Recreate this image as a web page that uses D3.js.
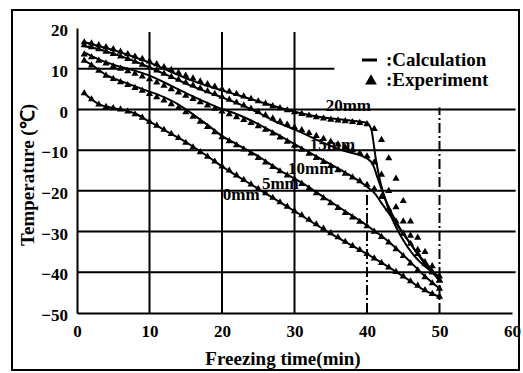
<!DOCTYPE html>
<html>
<head>
<meta charset="utf-8">
<script src="https://cdn.jsdelivr.net/npm/d3@7"></script>
<style>
  body { margin: 0; background: #fff; }
  svg text { font-family: "Liberation Serif", "Times New Roman", serif; font-weight: bold; fill: #000; }
</style>
</head>
<body>
<div id="chart"></div>
<script>
// axis ticks
const xTicks = [0, 10, 20, 30, 40, 50, 60];
const yTicks = [20, 10, 0, -10, -20, -30, -40, -50];

// calculation curves (time in min, temperature in °C)
const calc20Time = [1, 3, 5, 8, 10, 13, 16, 19, 22, 25, 28, 31, 34, 37, 40, 40.6, 41.2, 41.8, 42.5, 43.4, 44.8, 46.3, 48.3, 50];
const calc20Temp = [16.5, 15.6, 14.6, 12.8, 11.5, 9.2, 7, 5.2, 3.6, 2, 0.4, -1, -2, -2.6, -3.3, -5, -12, -17.5, -22, -26.5, -31.5, -35.5, -39, -41];
const calc15Time = [1, 3, 5, 8, 10, 13, 16, 19, 22, 25, 28, 30, 33, 36.5, 40, 40.8, 41.5, 42.3, 43, 44, 45, 46, 47, 48, 49, 50];
const calc15Temp = [15.5, 14.8, 13.7, 11.8, 10.3, 8, 5.6, 3.6, 1.6, -0.8, -3.5, -4.9, -7.4, -10, -12, -13.5, -17, -21, -24, -27.5, -30.5, -33, -35.5, -38, -40, -42];
const calc10Time = [1, 3, 5, 8, 10, 13, 16, 19, 22.5, 25, 28, 31, 34, 37, 40, 41, 42, 43, 44, 45, 46, 47, 48, 49, 50];
const calc10Temp = [14, 12.3, 11, 9.5, 8.3, 5.8, 3.2, 0.8, -1.5, -3.6, -6.5, -9.5, -12.5, -15.5, -19, -20.5, -23, -25.5, -28, -30.5, -33, -35.5, -37.5, -39.5, -42];
const calc5Time = [1, 2, 4, 6, 9, 12, 14, 16, 18, 20, 22, 25, 28, 31, 34, 37, 40, 43, 46, 48, 50];
const calc5Temp = [12, 11, 8.5, 7, 5, 3, 1.2, -1.2, -3.8, -6.5, -8.5, -11.5, -15, -18, -21.5, -25, -28.5, -32.5, -37.5, -41, -44];
const calc0Time = [1, 2, 3, 4, 6, 8, 10, 12, 15, 18, 20, 25, 30, 35, 40, 45, 48, 50];
const calc0Temp = [4, 2.5, 1.3, 0.7, 0, -1, -3, -5, -8, -11.5, -14, -19.5, -25, -30.5, -35.5, -41, -44.5, -46];

// experiment readings, one per minute
const expTime = [1, 2, 3, 4, 5, 6, 7, 8, 9, 10, 11, 12, 13, 14, 15, 16, 17, 18, 19, 20, 21, 22, 23, 24, 25,
  26, 27, 28, 29, 30, 31, 32, 33, 34, 35, 36, 37, 38, 39, 40, 41, 42, 43, 44, 45, 46, 47, 48, 49, 50];
const exp20 = [16.5, 16.2, 15.8, 15.3, 14.8, 14.2, 13.6, 13, 12.4, 11.8, 11.1, 10.4, 9.7, 9, 8.3, 7.6, 6.9, 6.2, 5.6, 5, 4.4, 3.8, 3.2, 2.6, 2,
  1.4, 0.8, 0.3, -0.2, -0.7, -1.1, -1.5, -1.9, -2.2, -2.5, -2.7, -2.9, -3.1, -3.3, -3.6, -4.8, -7.5, -12, -17, -22.5, -27.5, -31.5, -35, -38.5, -41];
const exp15 = [15.8, 15.3, 14.8, 14.2, 13.6, 13, 12.4, 11.7, 11, 10.3, 9.6, 8.8, 8, 7.3, 6.6, 5.9, 5.2, 4.5, 3.8, 3.1, 2.4, 1.7, 1, 0.2, -0.6,
  -1.4, -2.2, -3, -3.7, -4.4, -5.1, -5.8, -6.5, -7.2, -7.9, -8.6, -9.3, -10, -10.7, -11.5, -13, -16, -20, -24, -27.5, -31, -34.5, -37.5, -40, -42];
const exp10 = [13.5, 12.8, 12, 11.3, 10.6, 10, 9.4, 8.8, 8.1, 7.4, 6.6, 5.8, 5, 4.2, 3.4, 2.6, 1.8, 1, 0.2, -0.5, -1.2, -1.9, -2.6, -3.3, -4.1,
  -5, -5.9, -6.9, -7.9, -8.9, -9.9, -10.9, -11.9, -12.9, -13.9, -14.9, -15.8, -16.7, -17.6, -18.5, -19.5, -21.5, -24.5, -27.5, -30.5, -33, -35.5, -38, -40, -42];
const exp5 = [12, 10.8, 9.5, 8.3, 7.5, 6.7, 6, 5.3, 4.6, 3.8, 3, 2.2, 1.3, 0.4, -0.7, -1.8, -3, -4.3, -5.6, -6.8, -7.8, -8.8, -9.8, -10.8, -11.9,
  -13, -14.1, -15.2, -16.2, -17.2, -18.3, -19.4, -20.6, -21.8, -23, -24.2, -25.4, -26.5, -27.6, -28.7, -30, -31.3, -32.7, -34.3, -36, -37.8, -39.5, -41.2, -42.7, -44];
const exp0 = [4, 2.5, 1.2, 0.6, 0.3, 0, -0.5, -1.2, -2, -3, -4, -5, -6, -7, -8.2, -9.3, -10.5, -11.6, -12.8, -14, -15, -16.2, -17.3, -18.4, -19.5,
  -20.6, -21.7, -22.8, -23.9, -25, -26, -27.1, -28.2, -29.3, -30.4, -31.4, -32.5, -33.5, -34.5, -35.5, -36.6, -37.7, -38.8, -39.9, -41, -42.2, -43.3, -44.4, -45.3, -46];

// curve labels: text, anchor time, anchor temperature
const curveLabels = ["20mm", "15mm", "10mm", "5mm", "0mm"];
const labelTime = [34.3, 32.1, 29.1, 25.5, 20.1];
const labelTemp = [-0.5, -10, -15.8, -19.5, -22.2];

const W = 523, H = 373;
const svg = d3.select("#chart").append("svg")
  .attr("width", W)
  .attr("height", H);

svg.append("rect")
  .attr("x", 12).attr("y", 10)
  .attr("width", 507).attr("height", 360)
  .attr("fill", "#fff")
  .attr("stroke", "#000")
  .attr("stroke-width", 2);

const x = d3.scaleLinear().domain([0, 60]).range([77, 512]);
const y = d3.scaleLinear().domain([-50, 20]).range([313, 28]);

// grid
const grid = svg.append("g").attr("stroke", "#000").attr("stroke-width", 2);
[10, 0, -10, -20, -30, -40].forEach(v => {
  grid.append("line")
    .attr("x1", x(0)).attr("x2", v === 10 ? x(35.5) : x(60.5))
    .attr("y1", y(v)).attr("y2", y(v));
});
[10, 20, 30].forEach(v => {
  grid.append("line")
    .attr("x1", x(v)).attr("x2", x(v))
    .attr("y1", y(-50)).attr("y2", y(19));
});
grid.append("line")
  .attr("x1", x(40)).attr("x2", x(40))
  .attr("y1", y(-50)).attr("y2", y(-20))
  .attr("stroke-dasharray", "10,3,2,3");
grid.append("line")
  .attr("x1", x(50)).attr("x2", x(50))
  .attr("y1", y(-50)).attr("y2", y(0.5))
  .attr("stroke-dasharray", "10,3,2,3");

// axes
const xAxis = svg.append("g")
  .attr("transform", `translate(0,${y(-50)})`)
  .call(d3.axisBottom(x).tickValues(xTicks).tickSize(0).tickPadding(12));
const yAxis = svg.append("g")
  .attr("transform", `translate(${x(0)},0)`)
  .call(d3.axisLeft(y).tickValues(yTicks).tickSize(0).tickPadding(9));
[xAxis, yAxis].forEach(a => {
  a.select(".domain").attr("stroke", "#000").attr("stroke-width", 2);
  a.selectAll("text")
    .style("font-family", "'Liberation Serif', serif")
    .style("font-weight", "bold")
    .style("font-size", "17px");
});
yAxis.selectAll("text").attr("dy", "0.45em");

// axis titles
svg.append("text")
  .attr("x", 283)
  .attr("y", 365)
  .attr("text-anchor", "middle")
  .style("font-size", "19px")
  .text("Freezing time(min)");

svg.append("text")
  .attr("transform", "translate(34,175) rotate(-90)")
  .attr("text-anchor", "middle")
  .style("font-size", "19px")
  .text("Temperature (℃)");

// calculation lines
const line = d3.line()
  .x(d => x(d[0]))
  .y(d => y(d[1]))
  .curve(d3.curveMonotoneX);

const calcSeries = [
  [calc20Time, calc20Temp],
  [calc15Time, calc15Temp],
  [calc10Time, calc10Temp],
  [calc5Time, calc5Temp],
  [calc0Time, calc0Temp]
];

svg.append("g").selectAll("path")
  .data(calcSeries.map(([ts, vs]) => ts.map((t, i) => [t, vs[i]])))
  .join("path")
  .attr("d", line)
  .attr("fill", "none")
  .attr("stroke", "#000")
  .attr("stroke-width", 2);

// experiment triangles
const expSeries = [exp20, exp15, exp10, exp5, exp0];
const tri = d3.symbol().type(d3.symbolTriangle).size(22);

svg.append("g").selectAll("g")
  .data(expSeries)
  .join("g")
  .selectAll("path")
  .data(vs => vs.map((v, i) => [expTime[i], v]))
  .join("path")
  .attr("d", tri)
  .attr("transform", d => `translate(${x(d[0])},${y(d[1])})`)
  .attr("fill", "#000");

// curve labels
svg.append("g").selectAll("text")
  .data(curveLabels)
  .join("text")
  .attr("x", (d, i) => x(labelTime[i]))
  .attr("y", (d, i) => y(labelTemp[i]))
  .style("font-size", "17px")
  .text(d => d);

// legend
const legend = svg.append("g").attr("transform", "translate(362,60)");
legend.append("line")
  .attr("x1", 0).attr("x2", 15)
  .attr("y1", 0).attr("y2", 0)
  .attr("stroke", "#000").attr("stroke-width", 3);
legend.append("text")
  .attr("x", 24).attr("y", 6)
  .style("font-size", "19px")
  .text(":Calculation");
legend.append("path")
  .attr("d", d3.symbol().type(d3.symbolTriangle).size(60))
  .attr("transform", "translate(9,21)")
  .attr("fill", "#000");
legend.append("text")
  .attr("x", 24).attr("y", 26)
  .style("font-size", "19px")
  .text(":Experiment");
</script>
</body>
</html>
